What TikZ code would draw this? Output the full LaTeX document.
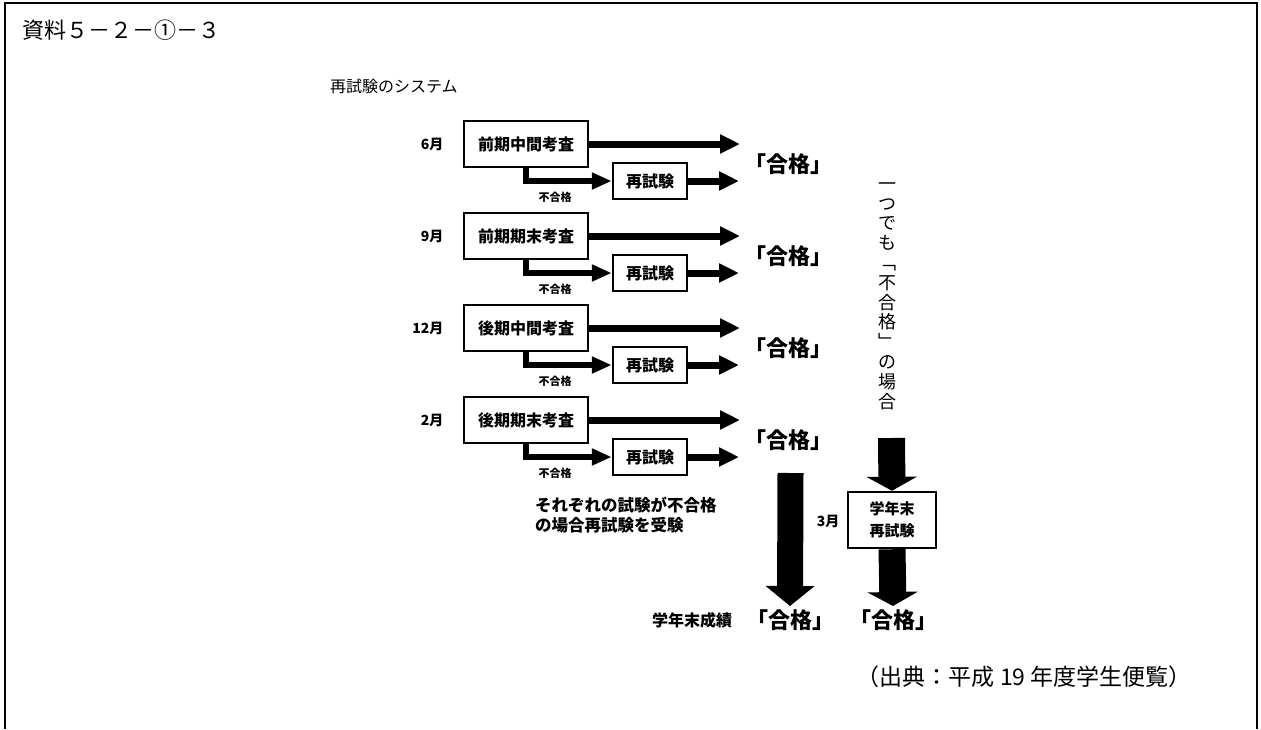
\documentclass[tikz,border=0pt]{standalone}
\usepackage{fontspec}
\setmainfont{Noto Sans CJK JP}
\usetikzlibrary{arrows.meta}
\newcommand\fsz[1]{\fontsize{#1}{#1}\selectfont}
\begin{document}
\begin{tikzpicture}[x=1pt,y=-1pt,
  box/.style={draw,line width=2.5pt,inner sep=0pt,font=\bfseries\fsz{16}},
  mainbox/.style={box,minimum width=124pt,minimum height=46pt},
  rebox/.style={box,minimum width=74pt,minimum height=36pt},
  month/.style={font=\bfseries\fsz{14}},
  ng/.style={font=\bfseries\fsz{11}},
  ok/.style={font=\bfseries\fsz{22}},
  harrow/.style={line width=7pt,-{Triangle[length=20pt,width=18pt]}},
  larrow/.style={line width=6pt,-{Triangle[length=20pt,width=16pt]}},
  barrow/.style={line width=26pt,-{Triangle[length=20pt,width=48pt]}},
  carrow/.style={line width=27pt,-{Triangle[length=14pt,width=50pt]}},
]
\useasboundingbox (0,0) rectangle (1261,729);
% frame (open at bottom)
\draw[line width=2.5pt] (5,729) -- (5,3) -- (1257,3) -- (1257,729);
% title
\node[anchor=west,inner sep=0pt,font=\fsz{22}] (title) at (22,30) {資料５－２－①－３};
\node[anchor=west,inner sep=0pt,font=\fsz{16}] (sub) at (330,86) {再試験のシステム};
% rows
\foreach \i/\y/\mo/\ex in {1/144/6月/前期中間考査,2/236/9月/前期期末考査,3/328/12月/後期中間考査,4/420/2月/後期期末考査}{
  \node[month,anchor=east] (mo\i) at (447,\y) {\mo};
  \node[mainbox] (m\i) at (526,\y) {\ex};
  \node[rebox] (r\i) at (650,\y+37) {再試験};
  \coordinate (e\i) at (740,\y);
  \coordinate (f\i) at (739,\y+37);
  \draw[harrow] (m\i.east) -- (e\i);
  \draw[harrow] (r\i.east) -- (f\i);
  \draw[larrow] (m\i.south) |- (r\i.west);
  \node[ng] (n\i) at (555,\y+53) {不合格};
  \node[ok] (g\i) at (788,\y+20) {「合格」};
}
% explanation
\node[anchor=north west,inner sep=0pt,align=left,font=\bfseries\fontsize{16.5}{20}\selectfont] (expl) at (535,497) {それぞれの試験が不合格\\の場合再試験を受験};
% vertical text
\node[inner sep=0pt,align=center,font=\fontsize{18}{19.8}\selectfont] (v) at (887,296) {一\\つ\\で\\も\\﹁\\不\\合\\格\\﹂\\の\\場\\合};
% year-end retest
\node[box,minimum width=88pt,minimum height=56pt,align=center,font=\bfseries\fontsize{15}{22}\selectfont] (ye) at (892,520) {学年末\\再試験};
\node[month,anchor=east] (mo5) at (843,521) {3月};
% bottom
\node[font=\bfseries\fsz{16}] (final) at (692,620) {学年末成績};
\node[ok] (b1) at (790,620) {「合格」};
\node[ok] (b2) at (893,620) {「合格」};
\coordinate (a1) at (790.5,473);
\coordinate (a2) at (891.5,438);
\draw[barrow] (a1) -- (b1.north);
\draw[carrow] (a2) -- (ye.north);
\draw[carrow] (ye.south) -- (b2.north);
% source
\node[anchor=east,inner sep=0pt,font=\fsz{23}] (src) at (1192,677) {（出典：平成 19 年度学生便覧）};
\end{tikzpicture}
\end{document}
